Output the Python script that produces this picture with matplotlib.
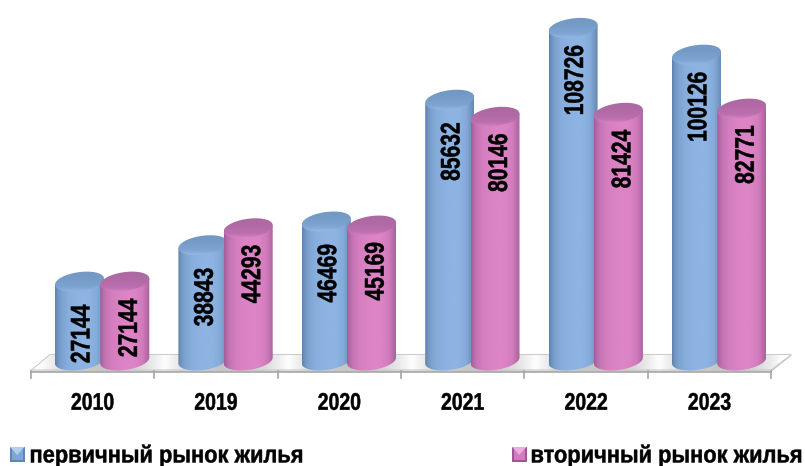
import numpy as np
import matplotlib
matplotlib.use("Agg")
import matplotlib.pyplot as plt
from matplotlib.patches import Polygon, Rectangle
from matplotlib.colors import LinearSegmentedColormap as LSC
from matplotlib.font_manager import FontProperties
from matplotlib.text import Text, TextPath
from matplotlib.transforms import Affine2D

years = ["2010", "2019", "2020", "2021", "2022", "2023"]
primary = [27144, 38843, 46469, 85632, 108726, 100126]
secondary = [27144, 44293, 45169, 80146, 81424, 82771]
name_primary = "первичный рынок жилья"
name_secondary = "вторичный рынок жилья"

plt.rcParams['font.family'] = ['Liberation Sans', 'DejaVu Sans']
W, H = 805, 466
STEP = 123.4        # px per category
X0 = 31             # px of left floor corner
PXK = 3.11 / 1000   # px per value unit
Y0 = 366            # px of value zero
FP = FontProperties(family='Liberation Sans', weight='bold')


class NarrowText(Text):
    """A text artist drawn horizontally condensed (no narrow font is installed)."""
    squeeze = 0.81
    px = 24.0

    def _outline(self):
        s = self.get_text()
        tp = TextPath((0, 0), s, size=self.px, prop=FP)
        e = tp.get_extents()
        cx = e.x0 if self.get_ha() == 'left' else (e.x0 + e.x1) / 2
        cy = (e.y0 + e.y1) / 2
        x, y = self.get_transform().transform(self.get_position())
        tr = (Affine2D().translate(-cx, -cy).scale(self.squeeze, 1)
              .rotate_deg(self.get_rotation()).translate(x, y))
        return tp, tr

    def draw(self, renderer):
        if not self.get_visible():
            return
        tp, tr = self._outline()
        gc = renderer.new_gc()
        gc.set_antialiased(True)
        gc.set_foreground('black')
        gc.set_linewidth(0.35)
        renderer.draw_path(gc, tp, tr, matplotlib.colors.to_rgb(self.get_color()))
        gc.restore()
        self.stale = False

    def get_window_extent(self, renderer=None, dpi=None):
        tp, tr = self._outline()
        return tp.get_extents(tr)


def label(x, y, s, px, squeeze=0.81, rotation=0, ha='center'):
    t = NarrowText(x, y, s, rotation=rotation, ha=ha, va='center', color='black',
                   fontsize=px * 0.72 * squeeze, fontweight='bold', zorder=30)
    t.px = px
    t.squeeze = squeeze
    ax.add_artist(t)
    t.set_transform(ax.transData)
    return t


fig = plt.figure(figsize=(W / 100, H / 100), dpi=100)
ax = fig.add_axes([0, 0, 1, 1])
ax.set_xlim(-0.5 - X0 / STEP, -0.5 + (W - X0) / STEP)
ax.set_ylim(-(H - Y0) / PXK, Y0 / PXK)
ax.axis('off')

def dx(p): return p / STEP
def dy(p): return p / PXK
def X(px): return -0.5 + (px - X0) / STEP
def Y(py): return (Y0 - py) / PXK
lims = (ax.get_xlim(), ax.get_ylim())

def grad(arr, cmap, extent, clip, z):
    im = ax.imshow(arr, cmap=cmap, extent=extent, aspect='auto', zorder=z,
                   interpolation='bicubic', vmin=0, vmax=1)
    im.set_clip_path(clip)

# floor
floor = Polygon([(X(31), Y(371)), (X(771), Y(371)), (X(791), Y(355)), (X(50), Y(355))],
                closed=True, fc='none', ec='#b4b4b4', lw=1.0, zorder=1)
ax.add_patch(floor)
xs = np.arange(0, 760, 2.0)
shade = np.ones_like(xs)
for i in range(len(years)):
    c = 102 + STEP * i - 31
    shade = np.minimum(shade, 0.35 + 0.65 * np.clip(np.abs(xs - c) / 62.0, 0, 1) ** 2)
floor_cm = LSC.from_list('f', ['#a8a8a8', '#ffffff'])
grad(shade[None, :], floor_cm, (X(31), X(791), Y(371), Y(355)), floor, 1)
ax.plot([X(31), X(771)], [Y(371.5), Y(371.5)], color='#a8a8a8', lw=1.2, zorder=2)
ax.plot([X(31), X(771), X(791)], [Y(370), Y(370), Y(355)], color='#c8c8c8', lw=0.8, zorder=2)
for i in range(len(years) + 1):
    ax.plot([X(31 + (771 - 31) / 6 * i)] * 2, [Y(371), Y(378)], color='#a4a4a4', lw=1.2, zorder=2)

# cylinders
BW = 24.5     # half width px
EH = 9.5      # half ellipse height px
TILT = np.radians(-7)
t = np.linspace(0, 2 * np.pi, 73)

def ell(cx, cy):
    ex = BW * np.cos(t)
    ey = EH * np.sin(t)
    return cx + ex, cy + ey + ex * np.tan(TILT)

def cylinder(cx, val, side_cols, top_cols, z):
    ytop = Y0 - val * PXK
    ybot = 360.5
    xb, yb = ell(cx, ybot)
    xt, yt = ell(cx, ytop)
    lower = np.sin(t) >= 0
    arcx, arcy = xb[lower], yb[lower]
    order = np.argsort(arcx)
    bx2 = np.r_[cx - BW, arcx[order], cx + BW]
    by2 = np.r_[ytop - BW * np.tan(TILT), arcy[order], ytop + BW * np.tan(TILT)]
    body = Polygon(np.c_[[X(a) for a in bx2], [Y(b) for b in by2]], closed=True,
                   fc='none', ec='none', zorder=z)
    ax.add_patch(body)
    cm = LSC.from_list('s', side_cols)
    ramp = np.array([0, .05, .12, .25, .5, .68, .85, .93, 1.0])
    val_r = np.array([0, .35, .62, .86, 1, 1, .8, .45, .12])
    g = np.interp(np.linspace(0, 1, 200), ramp, val_r)
    grad(g[None, :], cm, (X(cx - BW), X(cx + BW), Y(ybot + 14), Y(ytop - 14)), body, z)
    cap = Polygon(np.c_[[X(a) for a in xt], [Y(b) for b in yt]], closed=True,
                  fc='none', ec='none', zorder=z + 0.1)
    ax.add_patch(cap)
    cm2 = LSC.from_list('t', top_cols)
    gy = np.linspace(0, 1, 60)[:, None] ** 2.2
    grad(gy, cm2, (X(cx - BW), X(cx + BW), Y(ytop + 13), Y(ytop - 13)), cap, z + 0.1)

BLUE = (['#5d81aa', '#8db4e3'], ['#7398c4', '#7fa6d4', '#a8c8ee'])
PINK = (['#a05c96', '#dd84c6'], ['#ad68a2', '#bd70b0', '#ee98d8'])

for i in range(len(years)):
    base = 79.5 + STEP * i
    cylinder(base, primary[i], BLUE[0], BLUE[1], 3 + i * 2)
    cylinder(base + 45.3, secondary[i], PINK[0], PINK[1], 4 + i * 2)
    label(X(base + 0.6), primary[i] - dy(52), str(primary[i]), 27, 0.78, 90)
    label(X(base + 48), secondary[i] - dy(46), str(secondary[i]), 27, 0.78, 90)
    label(X(92.5 + STEP * i), Y(401.5), years[i], 24, 0.81)

# legend
def swatch(x0, dark, mid, light):
    y0, s = 447, 14.5
    ax.add_patch(Rectangle((X(x0), Y(y0 + s)), dx(s), dy(s), fc=dark, ec='none', zorder=30))
    ax.add_patch(Polygon([(X(x0), Y(y0)), (X(x0 + s), Y(y0)), (X(x0 + s - 2), Y(y0 + 2)), (X(x0 + 2), Y(y0 + 2))],
                         closed=True, fc=light, ec='none', zorder=31))
    ax.add_patch(Rectangle((X(x0 + 2), Y(y0 + s - 2)), dx(s - 4), dy(s - 4), fc=mid, ec='none', zorder=31))
    ax.add_patch(Polygon([(X(x0 + 2), Y(y0 + 2)), (X(x0 + s - 2), Y(y0 + 2)), (X(x0 + s / 2), Y(y0 + s * .55))],
                         closed=True, fc=light, ec='none', zorder=32))

swatch(10, '#5f86b2', '#7fa6d6', '#b2cfef')
swatch(512, '#9c5894', '#d07dbe', '#efaadf')
label(X(31), Y(456), name_primary, 24, 0.91, ha='left')
label(X(532), Y(456), name_secondary, 24, 0.91, ha='left')

ax.set_xlim(lims[0])
ax.set_ylim(lims[1])
fig.savefig('out.png', dpi=100, facecolor='white')
